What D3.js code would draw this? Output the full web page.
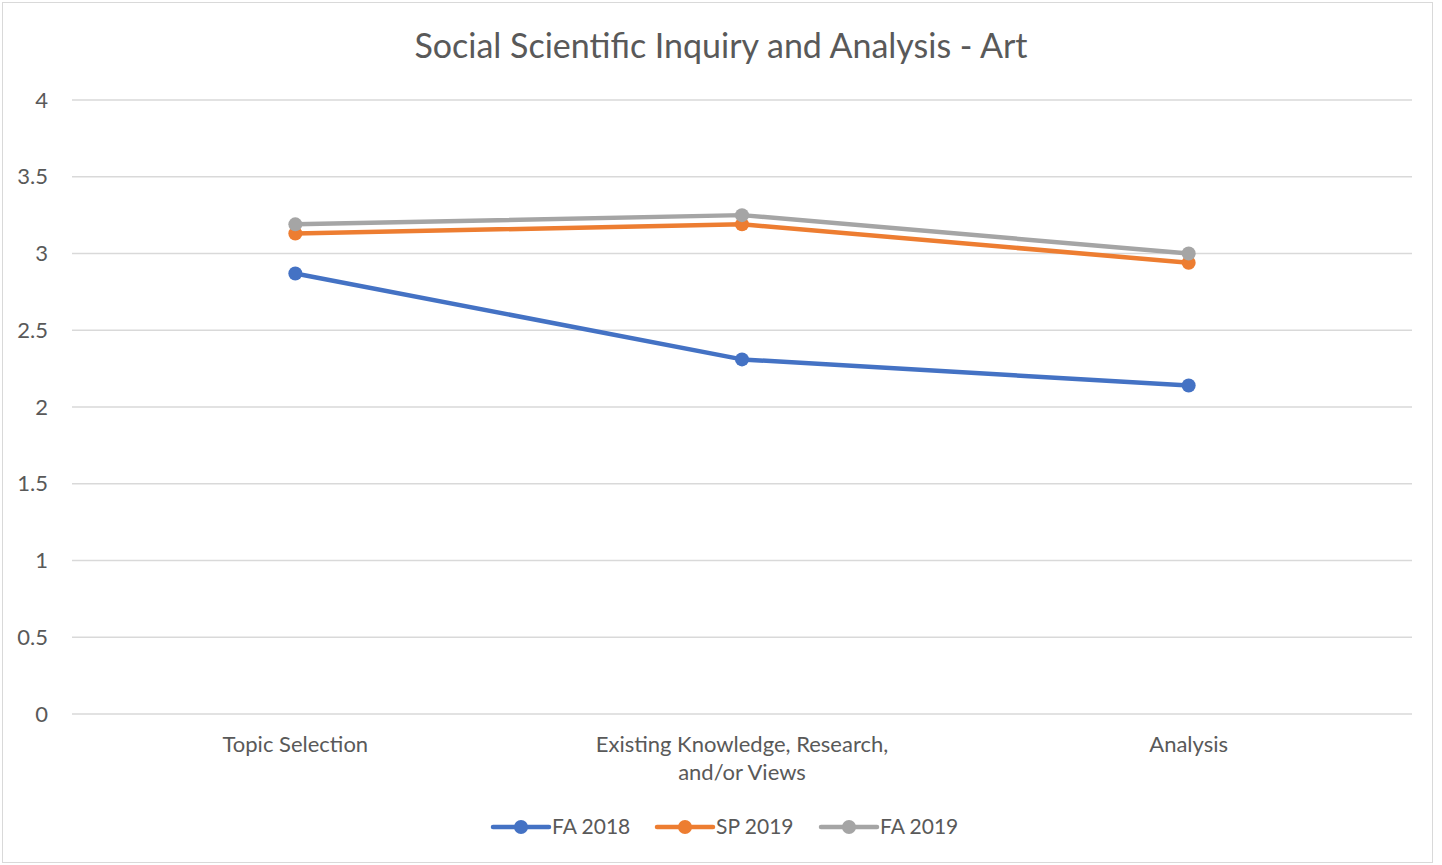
<!DOCTYPE html>
<html>
<head>
<meta charset="utf-8">
<script src="https://cdn.jsdelivr.net/npm/d3@7"></script>
<style>
  body { margin: 0; background: #fff; }
  svg { display: block; font-family: Lato, "Open Sans", sans-serif; }
</style>
</head>
<body>
<div id="chart"></div>
<script>
// Chart values
const categories = ["Topic Selection", "Existing Knowledge, Research, and/or Views", "Analysis"];
const seriesNames = ["FA 2018", "SP 2019", "FA 2019"];
const fa2018 = [2.87, 2.31, 2.14];
const sp2019 = [3.13, 3.19, 2.94];
const fa2019 = [3.19, 3.25, 3.00];
const yTicks = [0, 0.5, 1, 1.5, 2, 2.5, 3, 3.5, 4];
const colors = ["#4472C4", "#ED7D31", "#A5A5A5"];

const series = [fa2018, sp2019, fa2019].map((vals, i) => ({
    name: seriesNames[i],
    color: colors[i],
    values: vals.map((v, j) => ({cat: categories[j], v: v}))
}));

const W = 1442, H = 865;
const margin = {top: 100, right: 30, bottom: 151, left: 72};

const svg = d3.select("#chart").append("svg")
    .attr("width", W)
    .attr("height", H);

// outer chart border
svg.append("rect")
    .attr("x", 2.5).attr("y", 2.5)
    .attr("width", 1430).attr("height", 860)
    .attr("fill", "#fff")
    .attr("stroke", "#d9d9d9");

const x = d3.scaleBand()
    .domain(categories)
    .range([margin.left, W - margin.right]);

const y = d3.scaleLinear()
    .domain([0, 4])
    .range([H - margin.bottom, margin.top]);

// gridlines
svg.append("g")
    .selectAll("line")
    .data(yTicks)
    .join("line")
    .attr("x1", margin.left)
    .attr("x2", W - margin.right)
    .attr("y1", d => y(d))
    .attr("y2", d => y(d))
    .attr("stroke", "#d9d9d9")
    .attr("stroke-width", 1.5);

// y axis labels
const yAxis = d3.axisLeft(y).tickValues(yTicks).tickSize(0).tickPadding(0).tickFormat(d3.format("~g"));
svg.append("g")
    .attr("transform", `translate(48,0)`)
    .call(yAxis)
    .call(g => g.select(".domain").remove())
    .selectAll("text")
    .attr("fill", "#595959")
    .style("font-size", "22px")
    .style("font-family", "Lato, sans-serif");

// x axis labels, wrapped like the original
const xLabels = {
    "Topic Selection": ["Topic Selection"],
    "Existing Knowledge, Research, and/or Views": ["Existing Knowledge, Research,", "and/or Views"],
    "Analysis": ["Analysis"]
};
const xg = svg.append("g");
categories.forEach(c => {
    const t = xg.append("text")
        .attr("x", x(c) + x.bandwidth() / 2)
        .attr("y", 752)
        .attr("text-anchor", "middle")
        .attr("fill", "#595959")
        .style("font-size", "22px");
    xLabels[c].forEach((ln, i) => {
        t.append("tspan")
            .attr("x", x(c) + x.bandwidth() / 2)
            .attr("dy", i === 0 ? 0 : 28)
            .text(ln);
    });
});

const line = d3.line()
    .x(d => x(d.cat) + x.bandwidth() / 2)
    .y(d => y(d.v));

const sg = svg.append("g")
    .selectAll("g")
    .data(series)
    .join("g");

sg.append("path")
    .attr("d", d => line(d.values))
    .attr("fill", "none")
    .attr("stroke", d => d.color)
    .attr("stroke-width", 4.5)
    .attr("stroke-linejoin", "round");

sg.selectAll("circle")
    .data(d => d.values.map(v => ({...v, color: d.color})))
    .join("circle")
    .attr("cx", d => x(d.cat) + x.bandwidth() / 2)
    .attr("cy", d => y(d.v))
    .attr("r", 7)
    .attr("fill", d => d.color);

// title
svg.append("text")
    .attr("x", 721)
    .attr("y", 58)
    .attr("text-anchor", "middle")
    .attr("fill", "#595959")
    .style("font-size", "34px")
    .text("Social Scientific Inquiry and Analysis - Art");

// legend
const legendX = [493, 657, 821];
const lg = svg.append("g")
    .selectAll("g")
    .data(series)
    .join("g")
    .attr("transform", (d, i) => `translate(${legendX[i]},827)`);

lg.append("line")
    .attr("x1", 0).attr("x2", 56)
    .attr("stroke", d => d.color)
    .attr("stroke-width", 4.5)
    .attr("stroke-linecap", "round");
lg.append("circle")
    .attr("cx", 28).attr("r", 7)
    .attr("fill", d => d.color);
lg.append("text")
    .attr("x", 59)
    .attr("y", 7)
    .attr("fill", "#595959")
    .style("font-size", "21px")
    .text(d => d.name);
</script>
</body>
</html>
